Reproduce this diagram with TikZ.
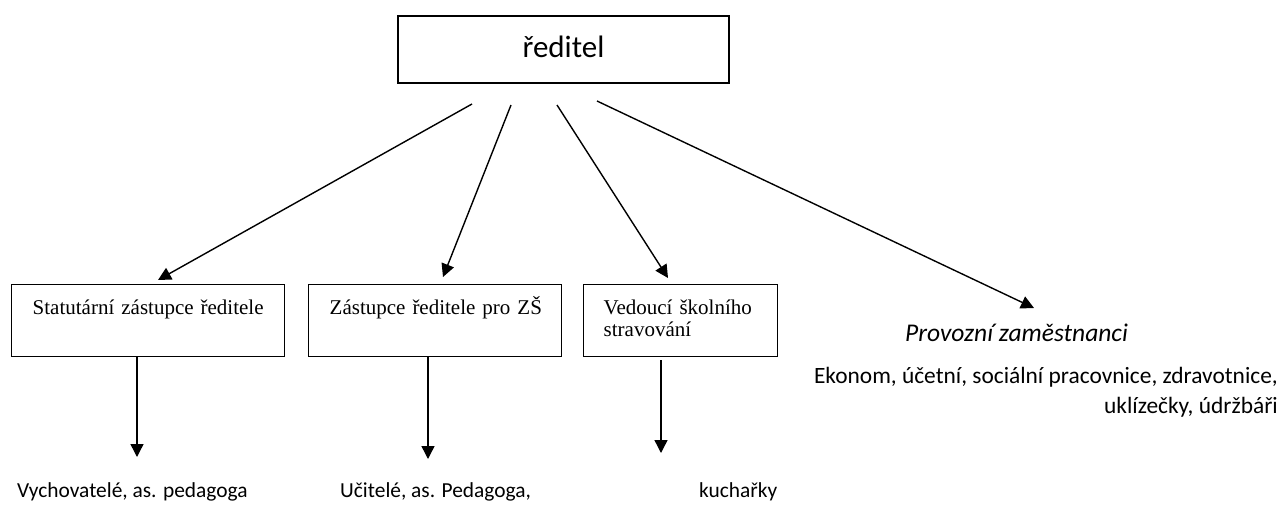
\documentclass[tikz,border=0pt]{standalone}
\usepackage{fontspec}
\setmainfont{Liberation Serif}
\newfontfamily\calib{Carlito}
\usetikzlibrary{arrows.meta,calc}
\tikzset{
  ln/.style={line width=1.4pt},
  arr/.style={ln,-{Triangle[length=13pt,width=13pt]}},
  orgbox/.style={draw,line width=1.4pt,anchor=north west,inner xsep=21pt,inner ysep=0pt,
     text height=30pt,text depth=42pt,align=left,font=\fontsize{21}{22}\selectfont},
  lbl/.style={inner sep=0pt,font=\calib\fontsize{21.4}{26}\selectfont}
}
\begin{document}
\begin{tikzpicture}[x=1pt,y=-1pt]
\useasboundingbox (0,0) rectangle (1286,512);
% top box
\node[draw,line width=1.6pt,minimum width=331pt,inner xsep=0pt,inner ysep=0pt,
      text height=41pt,text depth=26pt,font=\calib\fontsize{31}{36}\selectfont]
      (dir) at (563.5,49.5) {ředitel};
% second level boxes
\node[orgbox,text width=231pt] (b1) at (11,284) {\mbox{Statutární zástupce ředitele}};
\node[orgbox,text width=211pt] (b2) at (308,284) {\mbox{Zástupce ředitele pro ZŠ}};
\node[orgbox,inner xsep=20pt,text width=154pt] (b3) at (583,284) {\mbox{Vedoucí školního}\\\mbox{stravování}};
\node[anchor=base west,inner sep=0pt,font=\calib\itshape\fontsize{25.5}{30}\selectfont]
      (prov) at (905,341) {Provozní zaměstnanci};
\node[anchor=base east,inner sep=0pt,align=right,font=\calib\fontsize{23.4}{30}\selectfont]
      (prac) at (1278,413) {Ekonom, účetní, sociální pracovnice, zdravotnice,\\uklízečky, údržbáři};
% bottom labels
\node[lbl,anchor=base west] (vych) at (17,497) {Vychovatelé, as. pedagoga};
\node[lbl,anchor=base west] (ucit) at (340,497) {Učitelé, as. Pedagoga,};
\node[lbl,anchor=base west] (kuch) at (699,497) {kuchařky};
% arrow end points
\coordinate (s1) at (472,104);
\coordinate (s2) at (511,105);
\coordinate (s3) at (557,105);
\coordinate (s4) at (597,101);
\coordinate (t1) at (158,280);
\coordinate (t2) at (443,277);
\coordinate (t3) at (668,278);
\coordinate (t4) at (1034,308);
\draw[arr] (s1) -- (t1);
\draw[arr] (s2) -- (t2);
\draw[arr] (s3) -- (t3);
\draw[arr] (s4) -- (t4);
% vertical arrows
\coordinate (v1) at (137,457);
\coordinate (v2) at (428,459);
\coordinate (v3) at (661,453);
\draw[arr] (b1.south -| v1) -- (v1);
\draw[arr] (b2.south -| v2) -- (v2);
\draw[arr] ($(b3.south -| v3)+(0,3)$) -- (v3);
\end{tikzpicture}
\end{document}
